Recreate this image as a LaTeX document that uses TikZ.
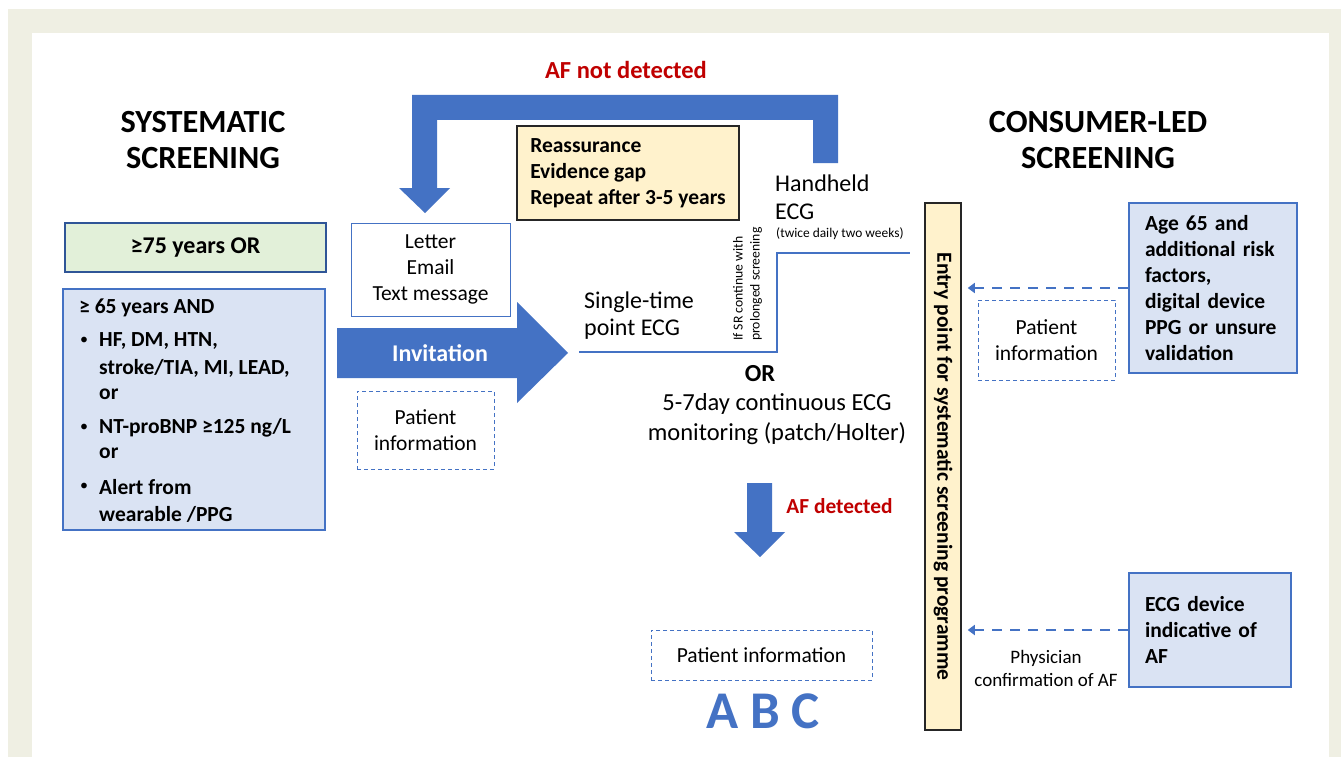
\documentclass[tikz,border=0pt]{standalone}
\usepackage{fontspec}
\setmainfont{Carlito}
\usetikzlibrary{arrows.meta}
\definecolor{bblue}{HTML}{4472C4}
\definecolor{lblue}{HTML}{DAE3F3}
\definecolor{lgreen}{HTML}{E2F0D9}
\definecolor{dblue}{HTML}{2F5597}
\definecolor{lyel}{HTML}{FFF2CC}
\definecolor{afred}{HTML}{C00000}
\definecolor{beige}{HTML}{EFEFE3}
\newcommand\fsz[2]{\fontsize{#1}{#2}\selectfont}
\tikzset{
  lbl/.style={inner sep=0pt, align=center},
  bluebox/.style={draw=bblue, line width=2.5pt, fill=lblue, inner sep=0pt},
  dbox/.style={draw=bblue, dash pattern=on 4pt off 3pt, line width=1pt, inner sep=0pt, align=center},
  yelbox/.style={draw=black!85, line width=1.5pt, fill=lyel, inner sep=0pt},
  dasharrow/.style={draw=bblue, line width=2.5pt, dash pattern=on 10pt off 8pt, -{Triangle[length=7pt,width=10pt]}, shorten >=6pt},
  bfont/.style={font=\fsz{21.5}{26}\bfseries},
  rfont/.style={font=\fsz{21.5}{26}},
  bullet/.style={inner sep=0pt, font=\fsz{16}{20}}
}
\begin{document}
\begin{tikzpicture}[x=1pt,y=-1pt]
\useasboundingbox (0,0) rectangle (1341,757);
\fill[beige] (8,9) rectangle (1341,757);
\fill[white] (32,33) rectangle (1329,757);

% titles
\node[lbl, font=\fsz{32.3}{36.5}\bfseries] (tsys) at (203,140) {SYSTEMATIC\\SCREENING};
\node[lbl, font=\fsz{32.3}{36.5}\bfseries] (tcon) at (1098,140) {CONSUMER-LED\\SCREENING};

% left boxes
\node[draw=dblue, line width=2pt, fill=lgreen, minimum width=261pt, minimum height=49pt, inner sep=0pt, font=\fsz{24}{28}\bfseries] (g75) at (195.5,247.5) {≥75 years OR};
\node[bluebox, minimum width=262pt, minimum height=241pt] (lbox) at (194,409.5) {};
\node[lbl, bfont, anchor=west] (l0) at (79,308) {≥ 65 years AND};
\node[bullet] (b1) at (84,341) {•};
\node[bullet] (b2) at (84,428) {•};
\node[bullet] (b3) at (84,487) {•};
\node[lbl, bfont, anchor=west] (l1) at (99,341) {HF, DM, HTN,};
\node[lbl, bfont, anchor=west] (l2) at (99,368) {stroke/TIA, MI, LEAD,};
\node[lbl, bfont, anchor=west] (l3) at (99,394) {or};
\node[lbl, bfont, anchor=west] (l4) at (99,428) {NT-proBNP ≥125 ng/L};
\node[lbl, bfont, anchor=west] (l5) at (99,453) {or};
\node[lbl, bfont, anchor=west] (l6) at (99,487) {Alert from};
\node[lbl, bfont, anchor=west] (l7) at (99,514) {wearable /PPG};

% invitation column
\node[draw=bblue, line width=1pt, minimum width=159pt, minimum height=93pt, inner sep=0pt, align=center, rfont] (letter) at (430.5,269.5) {Letter\\Email\\Text message};
\fill[bblue] (337,328) -- (517,328) -- (517,302) -- (568,353) -- (517,403) -- (517,378) -- (337,378) -- cycle;
\node[lbl, font=\fsz{24}{28}\bfseries, text=white] (inv) at (440,353) {Invitation};
\node[dbox, minimum width=137pt, minimum height=78pt, rfont] (pi1) at (425.5,430) {Patient\\information};

% top return arrow
\fill[bblue] (838,163) -- (838,95) -- (412,95) -- (412,188) -- (399,188) -- (425,213) -- (450,188) -- (437,188) -- (437,120) -- (813,120) -- (813,163) -- cycle;
\node[lbl, font=\fsz{24.5}{28}\bfseries, text=afred] (afnd) at (626,70) {AF not detected};
\node[yelbox, minimum width=222pt, minimum height=94pt, align=left, bfont] (reas) at (628,173) {Reassurance\\Evidence gap\\Repeat after 3-5 years};

% ECG options
\coordinate (s0) at (579,352);
\coordinate (s1) at (777,352);
\coordinate (s2) at (777,253);
\coordinate (s3) at (910,253);
\draw[bblue, line width=2.5pt] (s0) -- (s1) -- (s2) -- (s3);
\node[lbl, align=left, anchor=west, font=\fsz{24}{28}] (hh) at (775,197) {Handheld\\ECG};
\node[lbl, anchor=west, font=\fsz{13.4}{16}] (tw) at (776,234) {(twice daily two weeks)};
\node[lbl, align=left, anchor=west, font=\fsz{24}{27}] (st) at (584,315.5) {Single-time\\point ECG};
\node[lbl, align=left, rotate=90, anchor=north west, font=\fsz{13.7}{17}] (sr) at (733,341) {If SR continue with\\prolonged screening};
\node[lbl, font=\fsz{24.5}{28}\bfseries] (or) at (760,374) {OR};
\node[lbl, font=\fsz{24.5}{30}] (cont) at (777,419) {5-7day continuous ECG\\monitoring (patch/Holter)};

% AF detected
\fill[bblue] (747,483) -- (772,483) -- (772,532) -- (785,532) -- (760,557) -- (734,532) -- (747,532) -- cycle;
\node[lbl, font=\fsz{21.4}{24}\bfseries, text=afred] (afd) at (839.5,506) {AF detected};
\node[dbox, minimum width=221pt, minimum height=50pt, rfont] (pi3) at (761.5,655) {Patient information};
\node[lbl, font=\fsz{53}{60}\bfseries, text=bblue] (abc) at (763,711) {A B C};

% entry point
\node[yelbox, minimum width=36pt, minimum height=527pt] (entry) at (943,466.5) {};
\node[lbl, rotate=-90, font=\fsz{21.5}{24}\bfseries] (entrytxt) at (entry.center) {Entry point for systematic screening programme};

% right boxes
\node[bluebox, minimum width=168pt, minimum height=170pt, text width=136pt, align=left, bfont] (rb1) at (1213,288) {Age 65 and\\additional risk\\factors,\\digital device\\PPG or unsure\\validation};
\node[dbox, minimum width=137pt, minimum height=80pt, rfont] (pi2) at (1046.5,340) {Patient\\information};
\node[bluebox, minimum width=162pt, minimum height=114pt, text width=130pt, align=left, bfont] (rb2) at (1210,630) {ECG device\\indicative of\\AF};
\node[lbl, font=\fsz{19}{23}] (phys) at (1046,668.5) {Physician\\confirmation of AF};

\draw[dasharrow] (rb1.west) -- (entry.east |- rb1.west);
\draw[dasharrow] (rb2.west) -- (entry.east |- rb2.west);
\end{tikzpicture}
\end{document}
